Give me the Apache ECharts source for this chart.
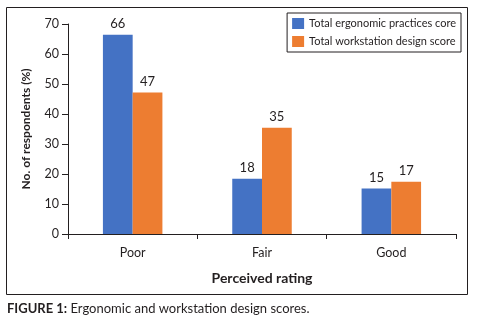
<!DOCTYPE html>
<html>
<head>
<meta charset="utf-8">
<script src="https://cdn.jsdelivr.net/npm/echarts@6/dist/echarts.min.js"></script>
<style>
html, body { margin: 0; padding: 0; background: #fff; }
#chart { width: 478px; height: 326px; }
</style>
</head>
<body>
<div id="chart"></div>
<script>
var categories = ['Poor', 'Fair', 'Good'];
var seriesNames = ['Total ergonomic practices core', 'Total workstation design score'];
var ergonomicValues = [66.4, 18.4, 15.2];
var workstationValues = [47.2, 35.4, 17.4];

var textColor = '#231f20';
var fontName = 'Lato, "Open Sans", sans-serif';

var myChart = echarts.init(document.getElementById('chart'));

function barLabel() {
    return {
        show: true,
        position: 'top',
        distance: 4,
        color: textColor,
        fontFamily: fontName,
        fontSize: 13,
        formatter: function (p) { return Math.round(p.value); }
    };
}

option = {
    animation: false,
    textStyle: { fontFamily: fontName, color: textColor },
    grid: { left: 68, right: 22, top: 24, bottom: 92 },
    legend: {
        orient: 'vertical',
        right: 17,
        top: 13,
        padding: [5, 5, 5, 5],
        itemGap: 7,
        itemWidth: 12,
        itemHeight: 11,
        icon: 'rect',
        borderColor: textColor,
        borderWidth: 1,
        textStyle: { color: textColor, fontFamily: fontName, fontSize: 11 },
        data: seriesNames
    },
    xAxis: {
        type: 'category',
        data: categories,
        name: 'Perceived rating',
        nameLocation: 'middle',
        nameGap: 37,
        nameTextStyle: { fontWeight: 'bold', fontSize: 14, color: textColor, fontFamily: fontName },
        axisLine: { lineStyle: { color: textColor, width: 1 } },
        axisTick: { show: true, length: 5, alignWithLabel: false, lineStyle: { color: textColor } },
        axisLabel: { color: textColor, fontSize: 12.5, margin: 12, fontFamily: fontName }
    },
    yAxis: {
        type: 'value',
        min: 0,
        max: 70,
        interval: 10,
        name: 'No. of respondents (%)',
        nameLocation: 'middle',
        nameGap: 36,
        nameTextStyle: { fontWeight: 'bold', fontSize: 12, color: textColor, fontFamily: fontName },
        axisLine: { show: true, lineStyle: { color: textColor, width: 1 } },
        axisTick: { show: true, length: 6, lineStyle: { color: textColor } },
        axisLabel: { color: textColor, fontSize: 12.5, margin: 9, fontFamily: fontName },
        splitLine: { show: false }
    },
    series: [
        {
            name: seriesNames[0],
            type: 'bar',
            data: ergonomicValues,
            barGap: '0%',
            barCategoryGap: '54%',
            itemStyle: { color: '#4472c4' },
            label: barLabel()
        },
        {
            name: seriesNames[1],
            type: 'bar',
            data: workstationValues,
            itemStyle: { color: '#ed7d31' },
            label: barLabel()
        }
    ],
    graphic: [
        {
            type: 'rect',
            shape: { x: 6.5, y: 7.5, width: 461, height: 287 },
            style: { fill: 'none', stroke: textColor, lineWidth: 1 },
            silent: true
        },
        {
            type: 'text',
            left: 7,
            top: 302,
            style: {
                text: '{b|FIGURE 1:} Ergonomic and workstation design scores.',
                fill: textColor,
                font: '13px Lato, sans-serif',
                rich: {
                    b: { fontWeight: 'bold', fontSize: 13, fontFamily: fontName, fill: textColor }
                }
            }
        }
    ]
};

myChart.setOption(option);
</script>
</body>
</html>
